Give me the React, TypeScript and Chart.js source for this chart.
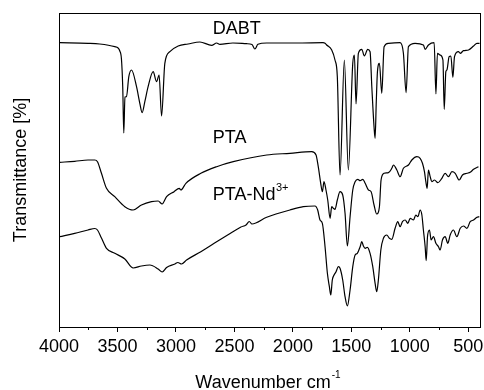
import { useEffect, useRef } from "react";
import { Chart, registerables } from "chart.js";

Chart.register(...registerables);

const FONT = '"Liberation Sans", Arial, sans-serif';

// wavenumber (cm-1) and transmittance (offset, arbitrary units)
const dabtWavenumbers = [
  3994, 3752, 3652, 3523, 3495, 3480, 3466, 3455, 3446, 3436, 3423, 3403, 3380, 3337, 3309, 3289,
  3266, 3238, 3195, 3166, 3144, 3123, 3095, 3052, 2981, 2896, 2795, 2695, 2652, 2624, 2513, 2396,
  2350, 2325, 2299, 2224, 1939, 1742, 1725, 1711, 1668, 1640, 1620, 1597, 1560, 1526, 1488, 1474,
  1460, 1440, 1411, 1389, 1360, 1340, 1325, 1306, 1297, 1287, 1277, 1260, 1240, 1220, 1183, 1083,
  1055, 1032, 1012, 955, 884, 869, 841, 792, 777, 764, 741, 717, 706, 692, 683, 664, 649, 632, 618,
  584, 569, 541, 498, 455, 426, 404,
];
const dabtValues = [
  284.3, 283.7, 283, 280.3, 279, 276, 268, 240, 194, 230, 230.3, 250.3, 257, 240.3, 223.7, 214.3,
  225.3, 240.3, 255.3, 245.3, 252, 211, 263.7, 275.3, 281, 283, 285, 281.7, 284, 282.7, 284, 283.3,
  282.5, 278, 282.7, 284, 284, 284.3, 283.7, 282, 277, 267, 250.3, 152, 267, 157, 263.7, 272,
  223, 273.7, 277.7, 271, 277.7, 275.3, 240, 200, 188.7, 225, 255.3, 263.7, 233.7, 280.3, 283.7, 284.3,
  273.7, 234.3, 280.3, 283.7, 282, 277.7, 282, 284.3, 233, 273.7, 272, 267, 217.7, 255.3, 257, 270.3,
  271, 249.7, 270.3, 275.3, 273.7, 276.3, 277, 281, 283.7, 283.7,
];

const ptaWavenumbers = [
  3994, 3866, 3752, 3694, 3671, 3637, 3594, 3523, 3437, 3366, 3295, 3209, 3152, 3118, 3080, 3016,
  2972, 2958, 2915, 2787, 2652, 2510, 2224, 2025, 1839, 1802, 1783, 1762, 1748, 1734, 1717, 1702, 1682,
  1668, 1654, 1640, 1620, 1597, 1574, 1554, 1534, 1511, 1488, 1468, 1445, 1425, 1402, 1382, 1354,
  1331, 1306, 1283, 1260, 1246, 1220, 1183, 1154, 1140, 1111, 1083, 1055, 1012, 983, 940, 912, 892,
  875, 863, 852, 841, 826, 812, 789, 760, 726, 698, 670, 640, 612, 578, 550, 512, 484, 455, 413,
];
const ptaValues = [
  164.7, 165.7, 167, 167, 165.3, 153.7, 138.7, 130.3, 120.3, 117, 122, 125.3, 126, 123, 130.3, 135.3,
  138.7, 137, 143.7, 153.7, 160.3, 165.3, 172, 173.7, 175.3, 172, 160.3, 143.7, 135.3, 145.3, 137, 127, 108.7,
  120.3, 118.7, 117.7, 127, 135.3, 132, 113.7, 81, 110.3, 137, 145.3, 147.7, 146.3, 147.7, 143.7, 137,
  135.3, 122, 113, 120.3, 147, 153.7, 154.3, 158.7, 162, 157, 150.3, 158.7, 162, 167, 170.3, 168.7, 163.7,
  155.3, 145.3, 138.7, 157, 150.3, 145.3, 147, 144.3, 148.7, 153.7, 150.3, 155.3, 153.7, 147, 152, 153.7,
  154.7, 157.7, 160.3,
];

const ptaNdWavenumbers = [
  3994, 3866, 3752, 3694, 3671, 3637, 3594, 3523, 3437, 3366, 3295, 3223, 3152, 3118, 3080, 3009,
  2984, 2952, 2909, 2787, 2673, 2558, 2444, 2401, 2373, 2350, 2224, 2025, 1911, 1811, 1788, 1768,
  1748, 1725, 1705, 1688, 1676, 1663, 1648, 1631, 1611, 1597, 1574, 1554, 1534, 1511, 1488, 1468,
  1449, 1425, 1411, 1397, 1382, 1363, 1340, 1317, 1297, 1283, 1269, 1248, 1226, 1197, 1175, 1154,
  1126, 1103, 1083, 1063, 1040, 1017, 997, 969, 949, 931, 912, 897, 884, 869, 860, 849, 832, 818,
  798, 777, 755, 741, 721, 698, 675, 655, 627, 598, 569, 541, 512, 484, 455, 426, 406,
];
const ptaNdValues = [
  90.3, 93.7, 97, 98.5, 97, 89, 78.7, 73.7, 68, 59, 61, 62, 58, 55, 59.5, 63,
  64.5, 63, 67, 75.3, 83.7, 92, 100, 102, 105.5, 103, 109.7, 117, 120.3, 121, 117, 107,
  103.7, 80.3, 53.7, 40.3, 32, 47, 52, 55.3, 60.3, 58.7, 47, 30.3, 21, 37, 60.3, 72,
  73.7, 80.3, 85.3, 81, 78.7, 79.7, 73.7, 60.3, 43.7, 35.3, 47, 77, 88.7, 92, 88.7, 87.7,
  98.7, 105.3, 100.3, 105.3, 107, 103.7, 108.7, 107, 112, 110.3, 117, 112, 97, 80.3, 66.3, 90.3, 97, 87,
  90.3, 83.7, 80.3, 77, 87, 90.3, 83.7, 92, 97, 90.3, 98.7, 101, 98.7, 105.3, 107, 109.7, 110.3,
];

const xMajorTicks = [4000, 3500, 3000, 2500, 2000, 1500, 1000, 500];
const xMinorTicks = [3750, 3250, 2750, 2250, 1750, 1250, 750];
const seriesNames = ["DABT", "PTA", "PTA-Nd"];

const toPoints = (xs: number[], ys: number[]) => xs.map((x, i) => ({ x, y: ys[i] }));

const decorations = {
  id: "decorations",
  afterDraw(chart: any) {
    const { ctx, chartArea: a, scales } = chart;
    const xs = scales.x;
    const ys = scales.y;
    ctx.save();
    // frame
    ctx.strokeStyle = "#000";
    ctx.lineWidth = 1;
    ctx.strokeRect(Math.round(a.left) + 0.5, Math.round(a.top) + 0.5, Math.round(a.right - a.left), Math.round(a.bottom - a.top));
    // minor ticks
    ctx.beginPath();
    for (const v of xMinorTicks) {
      const px = Math.round(xs.getPixelForValue(v)) + 0.5;
      ctx.moveTo(px, Math.round(a.bottom));
      ctx.lineTo(px, Math.round(a.bottom) + 3);
    }
    ctx.stroke();

    ctx.fillStyle = "#000";
    ctx.textBaseline = "alphabetic";
    ctx.textAlign = "left";
    const big = `18px ${FONT}`;
    const small = `11px ${FONT}`;
    // series labels
    const lx = xs.getPixelForValue(2685);
    ctx.font = big;
    ctx.fillText(seriesNames[0], lx, ys.getPixelForValue(293));
    ctx.fillText(seriesNames[1], lx, ys.getPixelForValue(184.3));
    const ndY = ys.getPixelForValue(127);
    ctx.fillText(seriesNames[2], lx, ndY);
    const ndW = ctx.measureText(seriesNames[2]).width;
    ctx.font = small;
    ctx.fillText("3+", lx + ndW + 0.5, ndY - 9);

    // x title
    const cx = (a.left + a.right) / 2 - 1.5;
    ctx.font = big;
    const t1 = "Wavenumber cm";
    const w1 = ctx.measureText(t1).width;
    ctx.font = `10px ${FONT}`;
    const t2 = "-1";
    const w2 = ctx.measureText(t2).width;
    const sx = cx - (w1 + w2 + 1) / 2;
    ctx.font = big;
    ctx.fillText(t1, sx, 388);
    ctx.font = `10px ${FONT}`;
    ctx.fillText(t2, sx + w1 + 1, 378);

    // y title
    ctx.font = big;
    ctx.translate(25.7, (a.top + a.bottom) / 2);
    ctx.rotate(-Math.PI / 2);
    ctx.textAlign = "center";
    ctx.fillText("Transmittance [%]", 0, 0);
    ctx.restore();
  },
};

export default function App() {
  const ref = useRef<HTMLCanvasElement | null>(null);
  useEffect(() => {
    document.body.style.margin = "0";
    const canvas = ref.current;
    if (!canvas) return;
    const line = (data: { x: number; y: number }[], label: string) => ({
      label,
      data,
      borderColor: "#000",
      borderWidth: 1.2,
      pointRadius: 0,
      fill: false,
      cubicInterpolationMode: "monotone" as const,
    });
    const chart = new Chart(canvas, {
      type: "line",
      data: {
        datasets: [
          line(toPoints(dabtWavenumbers, dabtValues), seriesNames[0]),
          line(toPoints(ptaWavenumbers, ptaValues), seriesNames[1]),
          line(toPoints(ptaNdWavenumbers, ptaNdValues), seriesNames[2]),
        ],
      },
      options: {
        animation: false,
        responsive: false,
        devicePixelRatio: 1,
        layout: { padding: { top: 13, right: 4, left: 0, bottom: 0 } },
        plugins: { legend: { display: false }, tooltip: { enabled: false } },
        scales: {
          x: {
            type: "linear",
            reverse: true,
            min: 400,
            max: 4000,
            afterBuildTicks: (s: any) => {
              s.ticks = xMajorTicks.map((v) => ({ value: v }));
            },
            afterFit: (s: any) => {
              s.height = 63;
              s.paddingLeft = 0;
              s.paddingRight = 0;
            },
            grid: { display: true, drawOnChartArea: false, drawTicks: true, tickLength: 5, color: "#000", tickColor: "#000", lineWidth: 1 },
            border: { display: false },
            ticks: {
              font: { family: FONT, size: 18 },
              color: "#000",
              padding: 4,
              maxRotation: 0,
              autoSkip: false,
              callback: (v: any) => String(v),
            },
          },
          y: {
            min: 0,
            max: 314,
            ticks: { display: false },
            grid: { display: false },
            border: { display: false },
            afterFit: (s: any) => {
              s.width = 59;
            },
          },
        },
      },
      plugins: [decorations],
    });
    return () => chart.destroy();
  }, []);
  return (
    <div style={{ width: 484, height: 390 }}>
      <canvas ref={ref} width={484} height={390} style={{ display: "block" }} />
    </div>
  );
}
